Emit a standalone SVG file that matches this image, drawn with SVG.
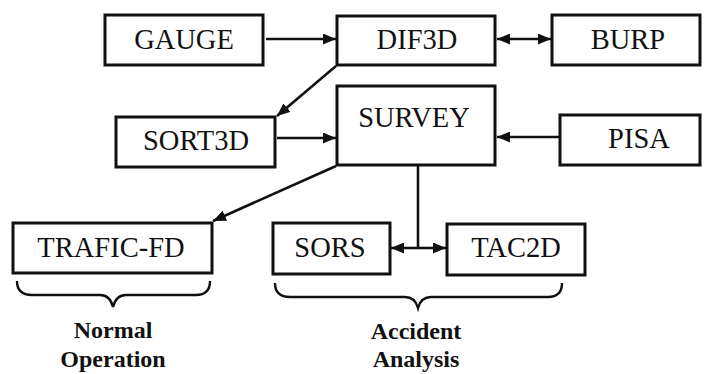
<svg xmlns="http://www.w3.org/2000/svg" width="709" height="374" viewBox="0 0 709 374">
<style>
.box{fill:#fff;stroke:#111;stroke-width:3}
.lbl{font-family:'Liberation Serif','Times New Roman',serif;font-size:28.5px;fill:#111;text-anchor:middle}
.cap{font-family:'Liberation Serif','Times New Roman',serif;font-size:24px;font-weight:bold;fill:#111;text-anchor:middle}
.ln{fill:none;stroke:#111;stroke-width:2.6}
.br{fill:none;stroke:#111;stroke-width:2.4}
</style>
<defs>
<marker id="ah" viewBox="0 0 13 11" refX="13" refY="5.5" markerWidth="13" markerHeight="11" markerUnits="userSpaceOnUse" orient="auto-start-reverse">
<path d="M0,0 L13,5.5 L0,11 Z" fill="#111"/>
</marker>
</defs>
<rect width="709" height="374" fill="#fff"/>
<g id="connectors">
<line class="ln" x1="266" y1="39" x2="336" y2="39" marker-end="url(#ah)"/>
<line class="ln" x1="497" y1="39" x2="551" y2="39" marker-start="url(#ah)" marker-end="url(#ah)"/>
<line class="ln" x1="336" y1="66" x2="277" y2="116" marker-end="url(#ah)"/>
<line class="ln" x1="277" y1="138" x2="336" y2="138" marker-end="url(#ah)"/>
<line class="ln" x1="560" y1="137" x2="497" y2="137" marker-end="url(#ah)"/>
<line class="ln" x1="336" y1="166" x2="213" y2="221" marker-end="url(#ah)"/>
<line class="ln" x1="418" y1="166" x2="418" y2="248"/>
<line class="ln" x1="418" y1="248" x2="446" y2="248" marker-end="url(#ah)"/>
<line class="ln" x1="418" y1="248" x2="391" y2="248" marker-end="url(#ah)"/>
</g>
<g id="gauge"><rect class="box" x="105" y="15" width="158" height="50"/><text class="lbl" x="184" y="49">GAUGE</text></g>
<g id="dif3d"><rect class="box" x="337" y="16" width="158" height="49"/><text class="lbl" x="417" y="49">DIF3D</text></g>
<g id="burp"><rect class="box" x="552" y="15" width="148" height="50"/><text class="lbl" x="628" y="49">BURP</text></g>
<g id="sort3d"><rect class="box" x="116" y="117" width="159" height="50"/><text class="lbl" x="196" y="150">SORT3D</text></g>
<g id="survey"><rect class="box" x="337" y="86" width="158" height="79"/><text class="lbl" x="414" y="127">SURVEY</text></g>
<g id="pisa"><rect class="box" x="560" y="115" width="140" height="50"/><text class="lbl" x="639" y="148">PISA</text></g>
<g id="trafic-fd"><rect class="box" x="13" y="223" width="199" height="50"/><text class="lbl" x="111" y="257">TRAFIC-FD</text></g>
<g id="sors"><rect class="box" x="273" y="223" width="117" height="51"/><text class="lbl" x="330" y="257">SORS</text></g>
<g id="tac2d"><rect class="box" x="447" y="224" width="138" height="51"/><text class="lbl" x="516" y="257">TAC2D</text></g>
<g id="normal-operation">
<path class="br" d="M17,281 Q17,295 32,295 L100,295 Q110,295 113,307 Q116,295 126,295 L196,295 Q210,295 210,281"/>
<text class="cap" x="113" y="338">Normal</text>
<text class="cap" x="113" y="367">Operation</text>
</g>
<g id="accident-analysis">
<path class="br" d="M275,283 Q275,297 290,297 L405,297 Q415,297 418,308 Q421,297 431,297 L548,297 Q562,297 562,283"/>
<text class="cap" x="416" y="339">Accident</text>
<text class="cap" x="416" y="367">Analysis</text>
</g>
</svg>
